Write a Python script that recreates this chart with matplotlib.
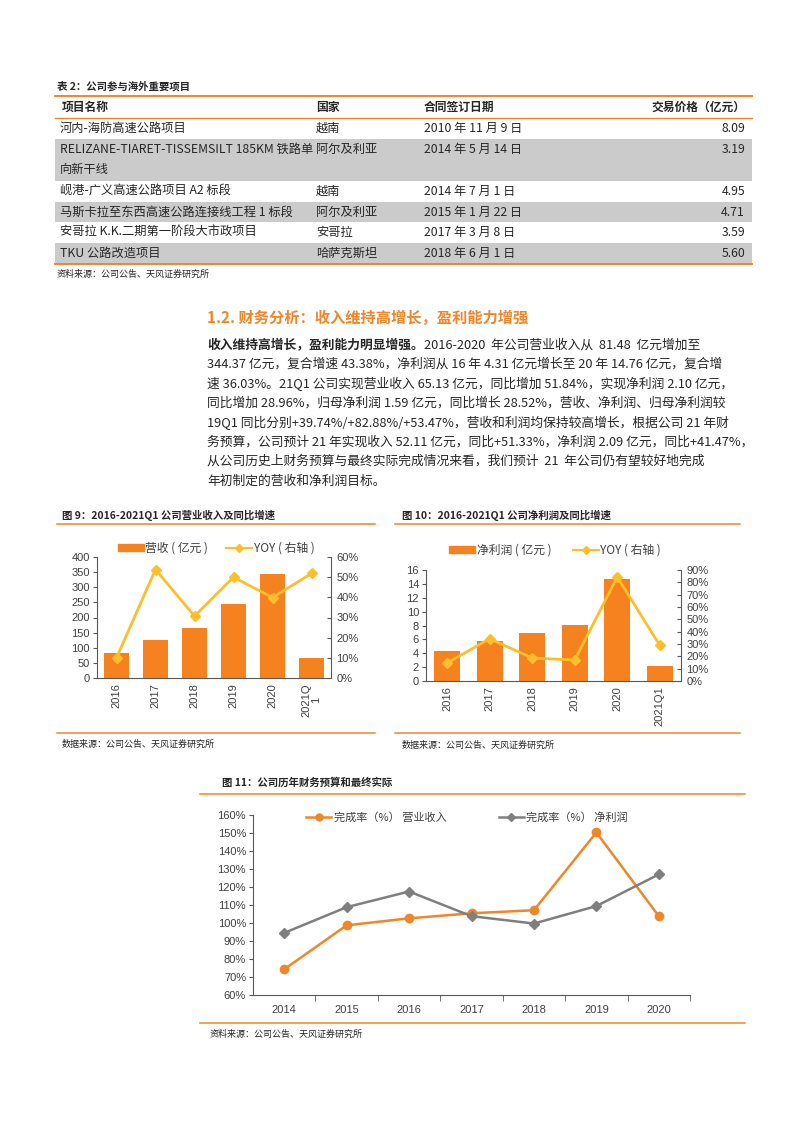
import matplotlib
matplotlib.use('Agg')
import matplotlib.pyplot as plt
from matplotlib.lines import Line2D
from matplotlib.patches import Rectangle, Patch
from matplotlib.ticker import FuncFormatter, MultipleLocator

plt.rcParams['font.family'] = ['Noto Sans CJK SC', 'DejaVu Sans']

# table data
proj_names = ['河内-海防高速公路项目',
              'RELIZANE-TIARET-TISSEMSILT 185KM 铁路单\n向新干线',
              '岘港-广义高速公路项目 A2 标段',
              '马斯卡拉至东西高速公路连接线工程 1 标段',
              '安哥拉 K.K.二期第一阶段大市政项目',
              'TKU 公路改造项目']
proj_country = ['越南', '阿尔及利亚', '越南', '阿尔及利亚', '安哥拉', '哈萨克斯坦']
proj_date = ['2010 年 11 月 9 日', '2014 年 5 月 14 日', '2014 年 7 月 1 日',
             '2015 年 1 月 22 日', '2017 年 3 月 8 日', '2018 年 6 月 1 日']
proj_price = [8.09, 3.19, 4.95, 4.71, 3.59, 5.60]

# chart 9
years9 = ['2016', '2017', '2018', '2019', '2020', '2021Q\n1']
revenue = [81.48, 125.5, 164.0, 245.0, 344.37, 65.13]
revenue_yoy = [10.0, 53.8, 30.7, 50.0, 39.9, 51.84]

# chart 10
years10 = ['2016', '2017', '2018', '2019', '2020', '2021Q1']
profit = [4.31, 5.81, 6.87, 8.07, 14.76, 2.10]
profit_yoy = [14.6, 34.3, 18.6, 17.0, 84.3, 28.96]

# chart 11
years11 = ['2014', '2015', '2016', '2017', '2018', '2019', '2020']
rev_rate = [74.3, 98.7, 102.6, 105.4, 107.1, 150.3, 103.8]
profit_rate = [94.5, 108.8, 117.5, 103.8, 99.7, 109.4, 127.0]

body_lines = [
    '344.37 亿元，复合增速 43.38%，净利润从 16 年 4.31 亿元增长至 20 年 14.76 亿元，复合增',
    '速 36.03%。21Q1 公司实现营业收入 65.13 亿元，同比增加 51.84%，实现净利润 2.10 亿元，',
    '同比增加 28.96%，归母净利润 1.59 亿元，同比增长 28.52%，营收、净利润、归母净利润较',
    '19Q1 同比分别+39.74%/+82.88%/+53.47%，营收和利润均保持较高增长，根据公司 21 年财',
    '务预算，公司预计 21 年实现收入 52.11 亿元，同比+51.33%，净利润 2.09 亿元，同比+41.47%，',
    '从公司历史上财务预算与最终实际完成情况来看，我们预计  21  年公司仍有望较好地完成',
    '年初制定的营收和净利润目标。',
]

ORANGE = '#f0862a'
BAR = '#f5821f'
YELLOW = '#fcbf2c'
GRAY_LINE = '#7f7f7f'
TXT = '#262626'
TICK = '#404040'
NUMFONT = ['Liberation Sans', 'Noto Sans CJK SC']

W, H = 793, 1122
fig = plt.figure(figsize=(W / 100, H / 100), dpi=100)


def fx(x):
    return x / W


def fy(y):
    return 1 - y / H


def rect(x0, y0, x1, y1):
    return [fx(x0), fy(y1), (x1 - x0) / W, (y1 - y0) / H]


def hline(x0, x1, y, color=ORANGE, lw=1.1):
    fig.add_artist(Line2D([fx(x0), fx(x1)], [fy(y), fy(y)], color=color, lw=lw))


def txt(x, y, s, **kw):
    kw.setdefault('va', 'center')
    kw.setdefault('color', TXT)
    return fig.text(fx(x), fy(y), s, **kw)


# ---------------- table ----------------
txt(57, 86, '表 2：公司参与海外重要项目', fontsize=7.5, weight='bold')
hline(55, 752, 96, lw=1.4)
txt(62, 107, '项目名称', fontsize=8.5, weight='bold')
txt(316, 107, '国家', fontsize=8.5, weight='bold')
txt(424, 107, '合同签订日期', fontsize=8.5, weight='bold')
txt(745, 107, '交易价格（亿元）', fontsize=8.5, weight='bold', ha='right')
hline(55, 752, 118, lw=1.0)

row_edges = [118, 139, 181, 202, 222, 243, 264]
for i in range(len(proj_names)):
    top, bot = row_edges[i], row_edges[i + 1]
    if i % 2 == 1:
        fig.add_artist(Rectangle((fx(55), fy(bot)), (752 - 55) / W, (bot - top) / H,
                                 facecolor='#cbcbcb', edgecolor='none'))
    for k, part in enumerate(proj_names[i].split('\n')):
        txt(60, top + 10.5 + k * 20, part, fontsize=8.8)
    txt(316, top + 10.5, proj_country[i], fontsize=8.8)
    txt(424, top + 10.5, proj_date[i], fontsize=8.8)
    txt(745, top + 10.5, f'{proj_price[i]:.2f}', fontsize=8.8, ha='right')
hline(55, 752, 264, lw=1.4)
txt(57, 274, '资料来源：公司公告、天风证券研究所', fontsize=6.5)

# ---------------- text section ----------------
txt(207, 318, '1.2. 财务分析：收入维持高增长，盈利能力增强', fontsize=11,
    weight='bold', color=ORANGE)
renderer = fig.canvas.get_renderer()
t0 = txt(207, 345, '收入维持高增长，盈利能力明显增强。', fontsize=9.2, weight='bold')
bb = t0.get_window_extent(renderer=renderer)
fig.text(bb.x1 / fig.bbox.width, fy(345), '2016-2020  年公司营业收入从  81.48  亿元增加至',
         fontsize=9.2, va='center', color=TXT)
for k, line in enumerate(body_lines):
    txt(207, 345 + (k + 1) * 19.4, line, fontsize=9.2)


def style_axes(ax, ax2):
    for a in (ax, ax2):
        a.spines['top'].set_visible(False)
        for s in a.spines.values():
            s.set_color('#595959')
            s.set_linewidth(0.8)
    ax.spines['right'].set_visible(False)
    ax2.spines['left'].set_visible(False)
    ax2.spines['bottom'].set_visible(False)
    ax.tick_params(axis='y', direction='out', length=3, color='#595959',
                   labelsize=8, labelcolor=TICK, pad=2)
    ax2.tick_params(axis='y', direction='in', length=3, color='#595959',
                    labelsize=8, labelcolor=TICK, pad=4)
    ax.tick_params(axis='x', length=0, labelsize=8, labelcolor=TICK, pad=4)
    for lab in ax.get_yticklabels() + ax2.get_yticklabels() + ax.get_xticklabels():
        lab.set_family(NUMFONT)


pct = FuncFormatter(lambda v, p: f'{v:.0f}%')

# ---------------- chart 9 ----------------
txt(62, 515, '图 9：2016-2021Q1 公司营业收入及同比增速', fontsize=7.5, weight='bold')
hline(57, 375, 524)
ax = fig.add_axes(rect(97, 557, 331, 678))
ax2 = ax.twinx()
x9 = range(len(years9))
ax.bar(x9, revenue, width=0.62, color=BAR, zorder=2)
ax2.plot(x9, revenue_yoy, color=YELLOW, lw=2, marker='D', markersize=5, zorder=3)
ax.set_xlim(-0.5, 5.5)
ax.set_ylim(0, 400)
ax.yaxis.set_major_locator(MultipleLocator(50))
ax2.set_ylim(0, 60)
ax2.yaxis.set_major_locator(MultipleLocator(10))
ax2.yaxis.set_major_formatter(pct)
ax.set_xticks(list(x9))
ax.set_xticklabels(years9, rotation=90, va='top', ha='center', linespacing=0.9)
ax.set_zorder(ax2.get_zorder() - 1)
ax.patch.set_visible(False)
ax2.patch.set_visible(False)
style_axes(ax, ax2)
fig.legend([Patch(color=BAR), Line2D([], [], color=YELLOW, lw=1.5, marker='D', markersize=4)],
           ['营收 ( 亿元 )', 'YOY ( 右轴 )'], loc='center', bbox_to_anchor=(fx(216), fy(548)),
           ncol=2, frameon=False, fontsize=8.5, handlelength=2.2, handleheight=0.6,
           columnspacing=1.5, handletextpad=0.15, labelcolor=TICK)
hline(57, 375, 733)
txt(62, 744, '数据来源：公司公告、天风证券研究所', fontsize=6.5)

# ---------------- chart 10 ----------------
txt(402, 515, '图 10：2016-2021Q1 公司净利润及同比增速', fontsize=7.5, weight='bold')
hline(395, 740, 524)
ax = fig.add_axes(rect(426, 570, 681, 681))
ax2 = ax.twinx()
x10 = range(len(years10))
ax.bar(x10, profit, width=0.61, color=BAR, zorder=2)
ax2.plot(x10, profit_yoy, color=YELLOW, lw=2, marker='D', markersize=5, zorder=3)
ax.set_xlim(-0.5, 5.5)
ax.set_ylim(0, 16)
ax.yaxis.set_major_locator(MultipleLocator(2))
ax2.set_ylim(0, 90)
ax2.yaxis.set_major_locator(MultipleLocator(10))
ax2.yaxis.set_major_formatter(pct)
ax.set_xticks(list(x10))
ax.set_xticklabels(years10, rotation=90, va='top', ha='center')
ax.set_zorder(ax2.get_zorder() - 1)
ax.patch.set_visible(False)
ax2.patch.set_visible(False)
style_axes(ax, ax2)
fig.legend([Patch(color=BAR), Line2D([], [], color=YELLOW, lw=1.5, marker='D', markersize=4)],
           ['净利润 ( 亿元 )', 'YOY ( 右轴 )'], loc='center', bbox_to_anchor=(fx(555), fy(550)),
           ncol=2, frameon=False, fontsize=8.5, handlelength=2.2, handleheight=0.6,
           columnspacing=1.8, handletextpad=0.15, labelcolor=TICK)
hline(395, 740, 733)
txt(402, 745, '数据来源：公司公告、天风证券研究所', fontsize=6.5)

# ---------------- chart 11 ----------------
txt(222, 783, '图 11：公司历年财务预算和最终实际', fontsize=7.5, weight='bold')
hline(200, 745, 794)
ax = fig.add_axes(rect(253, 815, 690, 995))
x11 = range(len(years11))
ax.plot(x11, rev_rate, color=ORANGE, lw=1.8, marker='o', markersize=6,
        label='完成率（%） 营业收入')
ax.plot(x11, profit_rate, color=GRAY_LINE, lw=1.8, marker='D', markersize=5,
        label='完成率（%） 净利润')
ax.set_xlim(-0.5, 6.5)
ax.set_ylim(60, 160)
ax.yaxis.set_major_locator(MultipleLocator(10))
ax.yaxis.set_major_formatter(pct)
ax.set_xticks(list(x11))
ax.set_xticklabels(years11)
ax.set_xticks([i + 0.5 for i in x11], minor=True)
ax.tick_params(axis='x', which='major', length=0, labelsize=8, labelcolor=TICK, pad=7)
ax.tick_params(axis='x', which='minor', length=4, direction='out', color='#595959')
ax.tick_params(axis='y', length=3, direction='out', color='#595959',
               labelsize=8, labelcolor=TICK, pad=2)
for s in ['top', 'right']:
    ax.spines[s].set_visible(False)
for s in ['left', 'bottom']:
    ax.spines[s].set_color('#595959')
    ax.spines[s].set_linewidth(0.8)
for lab in ax.get_yticklabels() + ax.get_xticklabels():
    lab.set_family(NUMFONT)
ax.patch.set_visible(False)
handles = [Line2D([], [], color=ORANGE, lw=1.8, marker='o', markersize=5),
           Line2D([], [], color=GRAY_LINE, lw=1.8, marker='D', markersize=4)]
fig.legend(handles, [h.get_label() for h in ax.get_lines()], loc='center',
           bbox_to_anchor=(fx(467), fy(817)), ncol=2, frameon=False, fontsize=8,
           handlelength=2.3, columnspacing=4.7, handletextpad=0.2, labelcolor=TICK)
hline(200, 745, 1023)
txt(210, 1034, '资料来源：公司公告、天风证券研究所', fontsize=6.5)

fig.savefig('out.png', dpi=100)
